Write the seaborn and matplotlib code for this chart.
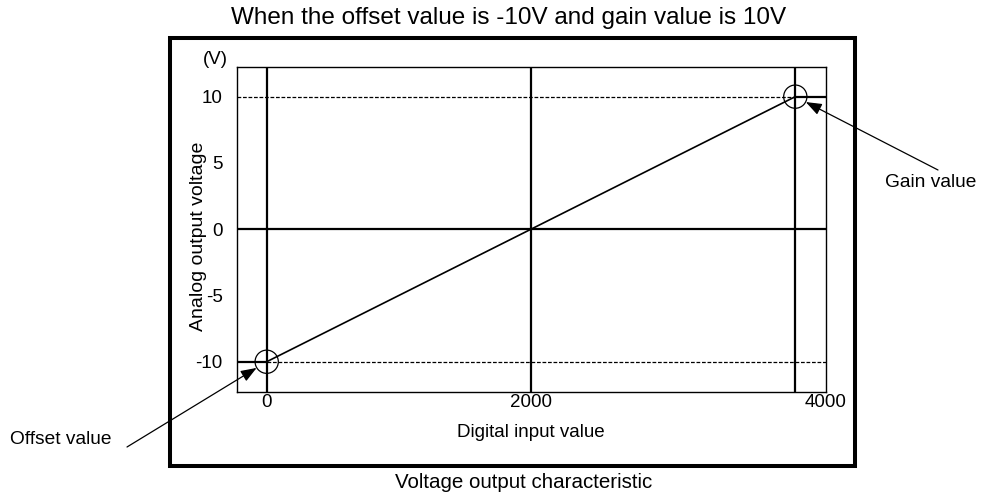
import matplotlib
matplotlib.use("Agg")
import matplotlib.pyplot as plt
import seaborn as sns
import pandas as pd
from matplotlib.patches import Rectangle

# ---- data ----
digital_input = [0, 4000]          # offset point, gain point
analog_output = [-10, 10]          # V
gridline_x = [0, 2000, 4000]
y_ticks = [-10, -5, 0, 5, 10]
y_ticklabels = ["-10", "-5", "0", "5", "10"]
x_ticklabels = ["0", "2000", "4000"]
title = "When the offset value is -10V and gain value is 10V"
caption = "Voltage output characteristic"

sns.set_theme(style="white")
plt.rcParams["font.family"] = ["Liberation Sans", "DejaVu Sans"]
plt.rcParams["text.color"] = "black"
FS = 13.5

W, H = 992, 495
fig = plt.figure(figsize=(W / 100, H / 100), dpi=100)

def fx(px):
    return px / W

def fy(py):
    return 1 - py / H

ax = fig.add_axes([fx(236.7), fy(391.7), fx(825.7) - fx(236.7), fy(66.7) - fy(391.7)])
xmin, xmax = -227, 4230
ymin, ymax = -12.26, 12.26
ax.set_xlim(xmin, xmax)
ax.set_ylim(ymin, ymax)

df = pd.DataFrame({"digital": digital_input, "voltage": analog_output})

# grid lines
for gx in gridline_x:
    ax.axvline(gx, color="black", lw=1.6, zorder=2)
ax.axhline(0, color="black", lw=1.6, zorder=2)

# +10 line: dashed to gain point, solid beyond
dash = (0, (3.0, 1.4))
ax.plot([xmin, digital_input[1]], [analog_output[1]] * 2, color="black", lw=0.9, ls=dash, zorder=2)
ax.plot([digital_input[1], xmax], [analog_output[1]] * 2, color="black", lw=1.6, zorder=2)
# -10 line: solid up to offset point, dashed beyond
ax.plot([xmin, digital_input[0]], [analog_output[0]] * 2, color="black", lw=1.6, zorder=2)
ax.plot([digital_input[0], xmax], [analog_output[0]] * 2, color="black", lw=0.9, ls=dash, zorder=2)

# characteristic line
sns.lineplot(data=df, x="digital", y="voltage", color="black", lw=1.2, ax=ax, zorder=3)
# circles
ax.scatter(df["digital"], df["voltage"], s=280, facecolors="none", edgecolors="black",
           linewidths=0.9, zorder=4)

ax.set_yticks(y_ticks)
ax.set_yticklabels(y_ticklabels, fontsize=FS)
ax.set_xticks([0, 2000, xmax])
ax.set_xticklabels(x_ticklabels, fontsize=FS)
ax.tick_params(axis="both", length=0, colors="black")
ax.tick_params(axis="y", pad=10)
ax.tick_params(axis="x", pad=2)
for sp in ax.spines.values():
    sp.set_color("black")
    sp.set_linewidth(1.0)
    sp.set_visible(True)

ax.set_xlabel("Digital input value", fontsize=FS, color="black")
ax.set_ylabel("Analog output voltage", fontsize=14, color="black")
ax.xaxis.set_label_coords(0.5, -0.10)
ax.yaxis.set_label_coords(-0.050, 0.478)

# (V) unit label
fig.text(fx(215), fy(60), "(V)", fontsize=FS, ha="center", va="center")

# title and caption
fig.text(fx(509), fy(18), title, fontsize=17.5, ha="center", va="center")
fig.text(fx(524), fy(483), caption, fontsize=14.8, ha="center", va="center")

# outer frame
fig.patches.append(Rectangle((fx(170), fy(466)), fx(855) - fx(170), fy(38) - fy(466),
                             transform=fig.transFigure, fill=False, edgecolor="black",
                             lw=2.9, zorder=10))

# annotations
arrow = dict(arrowstyle="-|>,head_length=0.8,head_width=0.3", color="black", lw=0.9,
             shrinkA=0, shrinkB=8.5)
ax.annotate("", xy=(digital_input[0], analog_output[0]), xycoords="data",
            xytext=(127, H - 447), textcoords="figure pixels", arrowprops=arrow,
            annotation_clip=False)
ax.annotate("", xy=(digital_input[1], analog_output[1]), xycoords="data",
            xytext=(938, H - 170), textcoords="figure pixels", arrowprops=arrow,
            annotation_clip=False)
fig.text(fx(10), fy(440), "Offset value", fontsize=13.8, ha="left", va="center")
fig.text(fx(885), fy(183), "Gain value", fontsize=13.8, ha="left", va="center")

fig.savefig("out.png", dpi=100)
